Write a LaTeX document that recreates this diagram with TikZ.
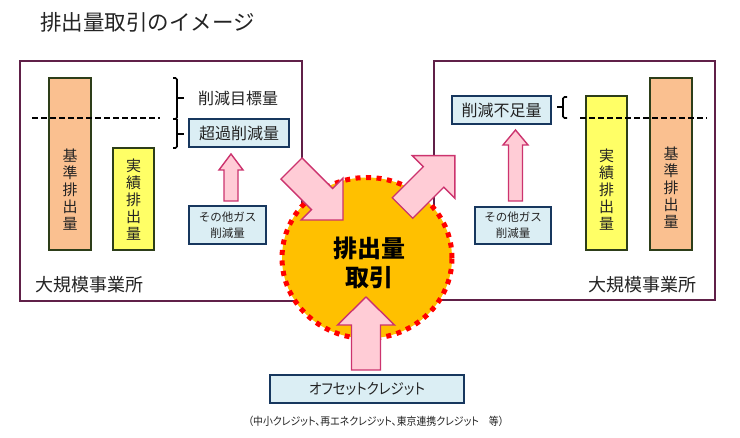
\documentclass[tikz,border=0pt]{standalone}
\usepackage{fontspec}
\setmainfont{Noto Sans CJK JP}
\newfontfamily\jpp{Noto Sans CJK JP}[RawFeature=+palt, FakeStretch=0.9]
\usetikzlibrary{shapes.geometric}
\definecolor{frame}{RGB}{96,32,72}
\definecolor{navy}{RGB}{23,55,94}
\definecolor{lblue}{RGB}{219,238,244}
\definecolor{barline}{RGB}{45,62,25}
\definecolor{orangef}{RGB}{250,192,144}
\definecolor{yellowf}{RGB}{255,255,102}
\definecolor{gold}{RGB}{255,192,0}
\definecolor{pinkf}{RGB}{255,204,214}
\definecolor{pinkd}{RGB}{204,51,110}
\definecolor{txt}{RGB}{35,35,35}
\tikzset{
  bigbox/.style={draw=frame, line width=2pt, fill=white, inner sep=0pt},
  barbox/.style={draw=barline, line width=1.6pt, inner sep=0pt},
  bluebox/.style={draw=navy, line width=1.8pt, fill=lblue, inner sep=0pt, text=txt},
  pinkarrow/.style={draw=pinkd, fill=pinkf, line width=1.4pt, line join=miter},
  dashline/.style={line width=1.6pt, dash pattern=on 6pt off 3pt},
  bracepath/.style={line width=1.6pt, rounded corners=1.5pt},
  vtext/.style={align=center, font=\fontsize{15}{17}\selectfont, text=txt, inner sep=0pt},
  pics/blockarrow/.style n args={4}{code={
    \draw[pinkarrow] (0,-#2) -- ({#1-#4},-#2) -- ({#1-#4},-#3) -- (#1,0) -- ({#1-#4},#3) -- ({#1-#4},#2) -- (0,#2) -- cycle;
  }}
}
\begin{document}
\begin{tikzpicture}[x=1pt,y=-1pt]
\useasboundingbox (0,0) rectangle (740,438);
\fill[white] (0,0) rectangle (740,438);
% title
\node[anchor=west, inner sep=0pt, font=\fontsize{21.5}{24}\selectfont, text=txt] (title) at (40,22) {排出量取引のイメージ};
% big boxes
\node[bigbox, minimum width=282pt, minimum height=240pt] (L) at (161,181) {};
\node[bigbox, minimum width=281pt, minimum height=239pt] (R) at (574.5,180.5) {};
% bars left
\node[barbox, fill=orangef, minimum width=42pt, minimum height=172pt] (Lbase) at (70,164) {};
\node[barbox, fill=yellowf, minimum width=41pt, minimum height=102pt] (Lact) at (133.5,199) {};
\node[vtext] (Lbaset) at (70,190) {基\\準\\排\\出\\量};
\node[vtext] (Lactt) at (133.5,200) {実\\績\\排\\出\\量};
% bars right
\node[barbox, fill=yellowf, minimum width=41pt, minimum height=154pt] (Ract) at (606.5,173) {};
\node[barbox, fill=orangef, minimum width=42pt, minimum height=172pt] (Rbase) at (671,164) {};
\node[vtext] (Ractt) at (606.5,190) {実\\績\\排\\出\\量};
\node[vtext] (Rbaset) at (671,188) {基\\準\\排\\出\\量};
% dashed lines
\coordinate (dl1) at (32,118); \coordinate (dl2) at (160,118);
\coordinate (dr1) at (580,118); \coordinate (dr2) at (707,118);
\draw[dashline] (dl1) -- (dl2);
\draw[dashline] (dr1) -- (dr2);
% braces left
\draw[bracepath] (173,78) -- (177,78) -- (177,119) -- (173,119);
\draw[bracepath] (177,119) -- (177,148) -- (173,148);
\draw[line width=1.6pt] (177,98) -- (184,98);
\draw[line width=1.6pt] (177,134) -- (184,134);
% brace right
\draw[bracepath] (567,97) -- (563,97) -- (563,118) -- (567,118);
\draw[line width=1.6pt] (563,107) -- (557,107);
% labels left
\node[inner sep=0pt, font=\fontsize{16}{18}\selectfont, text=txt] (target) at (238,98) {削減目標量};
\node[bluebox, minimum width=100pt, minimum height=28pt, font=\fontsize{16}{18}\selectfont] (excess) at (239,133) {超過削減量};
\node[bluebox, minimum width=77pt, minimum height=38pt, align=center, font=\fontsize{11.5}{16}\selectfont] (Lgas) at (227.5,225) {その他ガス\\削減量};
\pic[rotate=90] at (231,201) {blockarrow={47}{7}{12}{16}};
% labels right
\node[bluebox, minimum width=99pt, minimum height=28pt, font=\fontsize{16}{18}\selectfont] (short) at (501.5,110) {削減不足量};
\node[bluebox, minimum width=76pt, minimum height=37pt, align=center, font=\fontsize{11.5}{16}\selectfont] (Rgas) at (513,225.5) {その他ガス\\削減量};
\pic[rotate=90] at (515.5,201) {blockarrow={71}{7}{12.5}{15}};
% site labels
\node[anchor=west, inner sep=0pt, font=\fontsize{18}{20}\selectfont, text=txt] (Lsite) at (35,285) {大規模事業所};
\node[anchor=east, inner sep=0pt, font=\fontsize{18}{20}\selectfont, text=txt] (Rsite) at (697,285) {大規模事業所};
% central trade
\node[ellipse, fill=gold, draw=red, line width=5pt, dash pattern=on 5pt off 5.5pt, minimum width=170pt, minimum height=161pt, inner sep=0pt] (trade) at (367,258) {};
% offset
\node[bluebox, minimum width=194pt, minimum height=28pt, font=\jpp\fontsize{15}{17}\selectfont] (offset) at (367,389) {オフセットクレジット};
\node[inner sep=0pt, font=\jpp\fontsize{11}{13}\selectfont, text=txt] (note) at (376,421) {（中小クレジット、再エネクレジット、東京連携クレジット　等）};
% big arrows
\coordinate (a1) at (291.5,168.5);
\coordinate (a2) at (402.5,208);
\coordinate (a3) at (366,370);
\pic[rotate=-45] at (a1) {blockarrow={72.8}{15}{29.5}{29.5}};
\pic[rotate=45] at (a2) {blockarrow={74}{14.5}{30}{30}};
\pic[rotate=90] at (a3) {blockarrow={73}{14.5}{28.5}{28}};
\node[align=center, inner sep=0pt, font=\bfseries\fontsize{24}{29}\selectfont] (tradet) at (369,262.5) {排出量\\取引};
\end{tikzpicture}
\end{document}
